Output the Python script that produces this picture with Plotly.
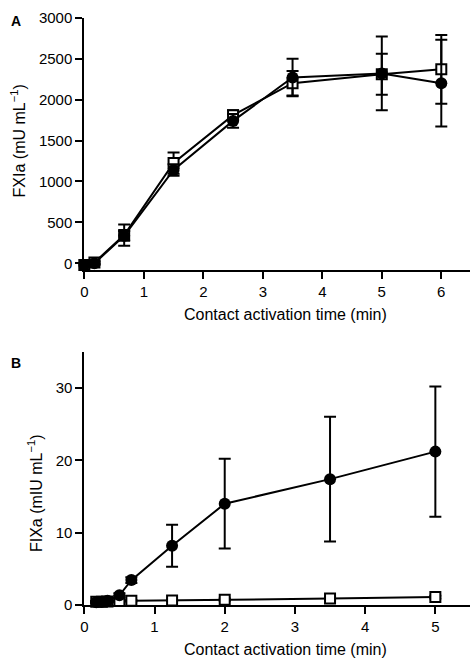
import plotly.graph_objects as go

W, H = 474, 666

# Panel A: FXIa
a_time = [0, 0.17, 0.67, 1.5, 2.5, 3.5, 5, 6]
a_circle = [-20, 0, 335, 1140, 1740, 2270, 2320, 2200]
a_circle_err = [20, 20, 60, 70, 85, 230, 450, 530]
a_square = [-20, 10, 345, 1225, 1810, 2200, 2310, 2370]
a_square_err = [20, 20, 130, 130, 60, 150, 250, 420]
a_yticks = [0, 500, 1000, 1500, 2000, 2500, 3000]
a_xticks = [0, 1, 2, 3, 4, 5, 6]

# Panel B: FIXa
b_time = [0.17, 0.25, 0.33, 0.5, 0.67, 1.25, 2, 3.5, 5]
b_circle = [0.4, 0.45, 0.6, 1.35, 3.45, 8.2, 14.0, 17.4, 21.2]
b_circle_err = [0.1, 0.1, 0.2, 0.3, 0.4, 2.9, 6.2, 8.6, 9.0]
b_square = [0.45, 0.45, 0.5, 0.55, 0.6, 0.65, 0.75, 0.9, 1.1]
b_square_err = [0.1, 0.1, 0.1, 0.1, 0.1, 0.1, 0.15, 0.2, 0.2]
b_yticks = [0, 10, 20, 30]
b_xticks = [0, 1, 2, 3, 4, 5]

FONT = "Liberation Sans, Arial, Helvetica, sans-serif"

fig = go.Figure()

def add_series(x, y, err, symbol, xa, ya):
    if symbol == "square":
        marker = dict(symbol="square", size=10, color="white",
                      line=dict(color="black", width=2))
    else:
        marker = dict(symbol="circle", size=12, color="black",
                      line=dict(color="black", width=0))
    fig.add_trace(go.Scatter(
        x=x, y=y, mode="lines+markers", xaxis=xa, yaxis=ya,
        line=dict(color="black", width=2),
        marker=marker,
        error_y=dict(type="data", array=err, visible=True,
                     color="black", thickness=2, width=6),
        cliponaxis=False, showlegend=False))

add_series(a_time, a_square, a_square_err, "square", "x", "y")
add_series(a_time, a_circle, a_circle_err, "circle", "x", "y")
add_series(b_time, b_square, b_square_err, "square", "x2", "y2")
add_series(b_time, b_circle, b_circle_err, "circle", "x2", "y2")

axis_style = dict(showline=True, linewidth=2, linecolor="black",
                  ticks="outside", ticklen=7, tickwidth=2, tickcolor="black",
                  showgrid=False, zeroline=False,
                  tickfont=dict(family=FONT, size=15, color="black"))

xd = [81 / W, 470 / W]
fig.update_layout(
    width=W, height=H,
    margin=dict(l=0, r=0, t=0, b=0),
    paper_bgcolor="white", plot_bgcolor="white",
    xaxis=dict(domain=xd, range=[0, 6.483], tickvals=a_xticks, anchor="y", **axis_style),
    yaxis=dict(domain=[1 - 268 / H, 1 - 9 / H], range=[-84, 3000], tickvals=a_yticks,
               anchor="x", **axis_style),
    xaxis2=dict(domain=xd, range=[0, 5.494], tickvals=b_xticks, anchor="y2", **axis_style),
    yaxis2=dict(domain=[1 - 611.7 / H, 1 - 351.7 / H], range=[0, 35], tickvals=b_yticks,
                anchor="x2", **axis_style),
)

def ann(text, px, py, size=16, angle=0, bold=False):
    fig.add_annotation(text=("<b>%s</b>" % text) if bold else text,
                       x=px / W, y=1 - py / H, xref="paper", yref="paper",
                       xanchor="center", yanchor="middle", showarrow=False,
                       textangle=angle,
                       font=dict(family=FONT, size=size, color="black"))

ann("Contact activation time (min)", 284, 314)
ann("Contact activation time (min)", 284, 657)
ann("FXIa (mU mL<sup>−1</sup>)", 14, 135, angle=-90)
ann("FIXa (mIU mL<sup>−1</sup>)", 32, 497, angle=-90)
ann("A", 12.5, 12.5, size=14, bold=True)
ann("B", 12, 363.5, size=14, bold=True)

fig.write_html("out.html",
               config={"displayModeBar": False},
               post_script="document.body.style.margin='0';document.body.style.overflow='hidden';")
